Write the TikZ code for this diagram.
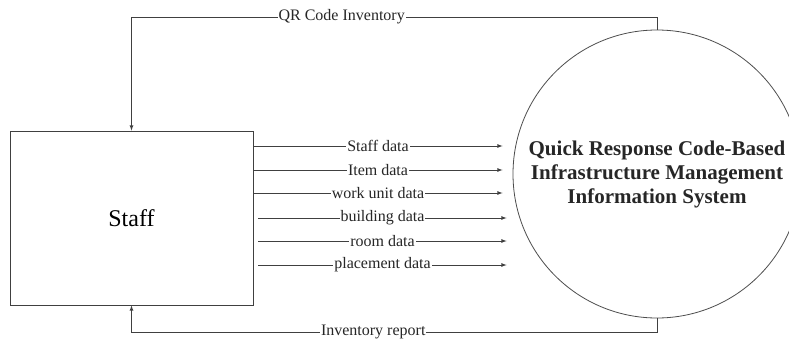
\documentclass[tikz,border=0pt]{standalone}
\usepackage{fontspec}
\setmainfont{Liberation Serif}
\usetikzlibrary{calc,positioning,arrows}

\begin{document}
\begin{tikzpicture}[x=1pt,y=-1pt,>=latex,%
	v/.style={draw=black!75,line width=.8pt,rectangle,minimum width=243pt,minimum height=174pt,%
		font=\fontsize{24}{28}\selectfont},%
	p/.style={draw=black!70,line width=.8pt,circle,minimum size=288pt,inner sep=0pt,align=center,%
		font=\fontsize{21}{24}\selectfont\bfseries,text=black!85},%
	e/.style={inner sep=1pt,fill=white,font=\fontsize{16}{18}\selectfont,text=black!85},%
	flow/.style={draw=black!75,line width=.8pt,->}]
	\useasboundingbox (0,0) rectangle (789,345);
	\clip (0,0) rectangle (789,345);
	\node[v] (staff) at (131.5,218) {Staff};
	\node[p] (sys) at (657,174) {Quick Response Code-Based\\Infrastructure Management\\Information System};
	\coordinate (up) at (0,17);
	\coordinate (down) at (0,332);
	% feedback to the staff
	\draw[flow] (sys.north) -- (sys.north |- up)
		-- node[e,pos=.60] {QR Code Inventory} (staff.north |- up) -- (staff.north);
	\draw[flow] (sys.south) -- (sys.south |- down)
		-- node[e,pos=.54] {Inventory report} (staff.south |- down) -- (staff.south);
	% data flows into the system
	\foreach \y/\t/\s/\g in {146/Staff data/0/10,170/Item data/0/10,193/work unit data/0/10,%
		218/building data/5/6,241/room data/5/6,265/placement data/5/6}
		\draw[flow] ($(staff.east |- 0,\y)+(\s,0)$) -- node[e] {\t} ($(sys.west |- 0,\y)+(-\g,0)$);
\end{tikzpicture}
\end{document}
